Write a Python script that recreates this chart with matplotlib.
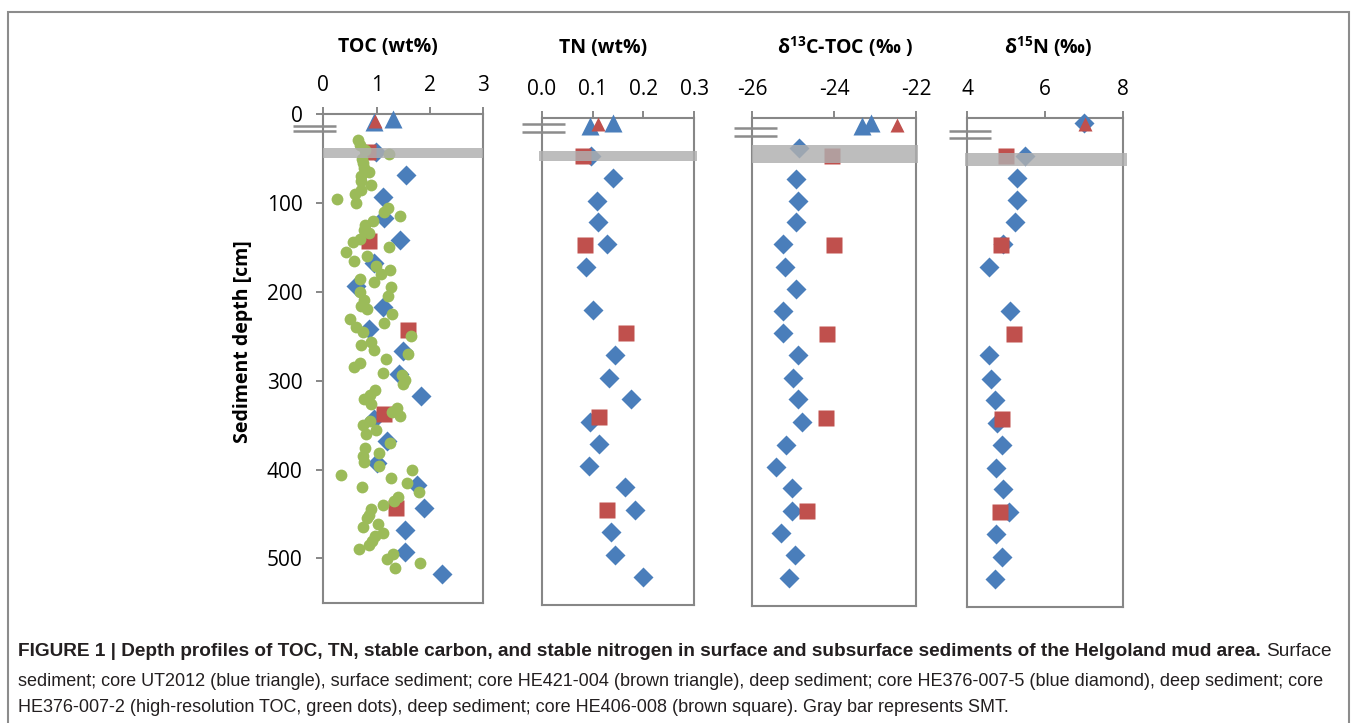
import numpy as np
import matplotlib
matplotlib.use('Agg')
import matplotlib.pyplot as plt
from matplotlib.transforms import blended_transform_factory
from matplotlib.patches import Rectangle

plt.rcParams['font.family'] = ['Open Sans', 'DejaVu Sans']
plt.rcParams['axes.unicode_minus'] = False
plt.rcParams['mathtext.fontset'] = 'custom'
plt.rcParams['mathtext.rm'] = 'Open Sans'
plt.rcParams['mathtext.bf'] = 'Open Sans:bold'

# ---------------- data ----------------
panel_titles = ['TOC (wt%)', 'TN (wt%)', r'δ$^{\mathbf{13}}$C-TOC (‰ )', r'δ$^{\mathbf{15}}$N (‰)']
x_limits = [(0, 3), (0, 0.3), (-26, -22), (4, 8)]
x_ticks = [[0, 1, 2, 3], [0.0, 0.1, 0.2, 0.3], [-26, -24, -22], [4, 6, 8]]
x_ticklabels = [['0', '1', '2', '3'], ['0.0', '0.1', '0.2', '0.3'], ['-26', '-24', '-22'], ['4', '6', '8']]
depth_ticks = [0, 100, 200, 300, 400, 500]
depth_max = 550

# HE376-007-5 (blue diamond)
diamond_depth = [43, 68, 93, 117, 142, 168, 193, 217, 242, 267, 293, 317, 343, 368, 393, 417, 443, 468, 493, 518]
toc_diamond = [0.99, 1.545, 1.125, 1.14, 1.44, 0.95, 0.61, 1.125, 0.86, 1.49, 1.41, 1.83, 0.95, 1.19, 1.01, 1.75, 1.89, 1.53, 1.53, 2.22]
tn_diamond = [0.097, 0.14, 0.108, 0.111, 0.128, 0.087, np.nan, 0.101, np.nan, 0.144, 0.133, 0.175, 0.095, 0.113, 0.093, 0.164, 0.183, 0.136, 0.145, 0.1985]
d13c_diamond_depth = [34, 68, 93, 117, 142, 168, 193, 217, 242, 267, 293, 317, 343, 368, 393, 417, 443, 468, 493, 518]
d13c_diamond = [-24.85, -24.92, -24.88, -24.93, -25.24, -25.2, -24.93, -25.24, -25.24, -24.88, -25.0, -24.88, -24.78, -25.18, -25.42, -25.04, -25.02, -25.3, -24.96, -25.1]
d15n_diamond_depth = [6, 43, 68, 93, 117, 142, 168, 193, 217, 242, 267, 293, 317, 343, 368, 393, 417, 443, 468, 493, 518]
d15n_diamond = [6.99, 5.48, 5.27, 5.28, 5.22, 4.92, 4.56, np.nan, 5.09, np.nan, 4.56, 4.61, 4.71, 4.75, 4.88, 4.73, 4.92, 5.07, 4.74, 4.90, 4.71]

# HE406-008 (brown square)
square_depth = [43, 143, 243, 338, 443]
toc_square = [0.84, 0.86, 1.59, 1.14, 1.36]
tn_square = [0.082, 0.085, 0.166, 0.113, 0.128]
d13c_square = [-24.06, -24.0, -24.18, -24.2, -24.67]
d15n_square = [4.99, 4.86, 5.2, 4.88, 4.84]

# UT2012 (blue triangle)
blue_tri_depth = [9, 5]
toc_blue_tri = [0.95, 1.31]
tn_blue_tri = [0.095, 0.14]
d13c_blue_tri = [-23.33, -23.1]

# HE421-004 (brown triangle)
red_tri_depth = [7]
toc_red_tri = [0.97]
tn_red_tri = [0.111]
d13c_red_tri = [-22.47]
d15n_red_tri = [7.02]

# HE376-007-2 high-resolution TOC (green dots)
green_depth = [29, 35, 40, 45, 50, 55, 60, 65, 70, 75, 80, 85, 90, 95, 100, 105, 110, 114, 120, 125,
               130, 134, 140, 144, 150, 155, 160, 165, 171, 175, 180, 185, 189, 195, 200, 205, 209, 216, 219, 225,
               230, 235, 240, 245, 250, 256, 260, 265, 270, 276, 280, 285, 291, 294, 299, 304, 311, 316, 321, 326,
               331, 335, 340, 345, 350, 355, 360, 370, 376, 381, 385, 391, 396, 400, 406, 410, 415, 420, 425, 431,
               436, 440, 444, 451, 455, 461, 465, 471, 475, 481, 485, 490, 495, 501, 505, 511]
green_toc = [0.65, 0.69, 0.78, 1.23, 0.72, 0.75, 0.76, 0.86, 0.70, 0.70, 0.89, 0.70, 0.59, 0.26, 0.61, 1.22, 1.14, 1.44, 0.93, 0.78,
             0.76, 0.86, 0.69, 0.56, 1.24, 0.43, 0.81, 0.58, 0.99, 1.25, 1.09, 0.69, 0.95, 1.26, 0.68, 1.22, 0.77, 0.71, 0.81, 1.28,
             0.50, 1.14, 0.62, 0.75, 1.64, 0.89, 0.70, 0.95, 1.58, 1.17, 0.68, 0.58, 1.11, 1.47, 1.53, 1.50, 0.96, 0.88, 0.77, 0.89,
             1.38, 1.28, 1.44, 0.88, 0.74, 0.99, 0.80, 1.25, 0.79, 1.05, 0.75, 0.76, 1.04, 1.66, 0.33, 1.27, 1.56, 0.73, 1.80, 1.40,
             1.33, 1.11, 0.89, 0.86, 0.81, 1.02, 0.74, 1.11, 0.97, 0.91, 0.86, 0.66, 1.31, 1.19, 1.81, 1.34]

# SMT gray bar (depth range per panel)
smt_range = [(38, 49), (37, 48), (30, 50), (40, 54)]

caption_bold = ('FIGURE 1 | Depth profiles of TOC, TN, stable carbon, and stable nitrogen in surface '
                'and subsurface sediments of the Helgoland mud area.')
caption_l1 = 'Surface'
caption_l2 = ('sediment; core UT2012 (blue triangle), surface sediment; core HE421-004 (brown triangle), '
              'deep sediment; core HE376-007-5 (blue diamond), deep sediment; core')
caption_l3 = ('HE376-007-2 (high-resolution TOC, green dots), deep sediment; core HE406-008 (brown square). '
              'Gray bar represents SMT.')

# ---------------- style / layout ----------------
W, H = 1357, 723
fig = plt.figure(figsize=(W / 100, H / 100), dpi=100)

BLUE = '#4a7ebb'
RED = '#c0504d'
GREEN = '#9bbb59'
AXC = '#878787'

# axes boxes in pixels: left, right, top, bottom
boxes = [(323.3, 483.3, 114.3, 602.7), (541.7, 694.3, 118.3, 605.0),
         (752.3, 916.0, 118.3, 606.0), (967.3, 1123.3, 117.7, 607.3)]
title_pos = [(388, 47), (603, 48), (845, 47), (1048, 47)]
break_x = [(-0.19, 0.08), (-0.13, 0.15), (-0.11, 0.15), (-0.12, 0.15)]
break_y = [(13, 19), (7, 15), (10.5, 20), (15, 22.5)]
smt_x = [(0.0, 1.0), (-0.018, 1.02), (0.0, 1.012), (-0.012, 1.024)]

series = [
    dict(diam=(diamond_depth, toc_diamond), sq=toc_square, bt=toc_blue_tri, rt=toc_red_tri, green=True),
    dict(diam=(diamond_depth, tn_diamond), sq=tn_square, bt=tn_blue_tri, rt=tn_red_tri, green=False),
    dict(diam=(d13c_diamond_depth, d13c_diamond), sq=d13c_square, bt=d13c_blue_tri, rt=d13c_red_tri, green=False),
    dict(diam=(d15n_diamond_depth, d15n_diamond), sq=d15n_square, bt=None, rt=d15n_red_tri, green=False),
]

axes = []
for i, (l, r, t, b) in enumerate(boxes):
    ax = fig.add_axes([l / W, 1 - b / H, (r - l) / W, (b - t) / H])
    axes.append(ax)
    s = series[i]
    ax.plot(s['diam'][1], s['diam'][0], ls='none', marker='D', ms=10.2, color=BLUE, mec='none', zorder=3, clip_on=False)
    ax.plot(s['sq'], square_depth, ls='none', marker='s', ms=11.5, color=RED, mec='none', zorder=4, clip_on=False)
    if s['green']:
        ax.plot(green_toc, green_depth, ls='none', marker='o', ms=8.5, color=GREEN, mec='none', zorder=5, clip_on=False)
    if s['bt'] is not None:
        ax.plot(s['bt'], blue_tri_depth, ls='none', marker='^', ms=13, color=BLUE, mec='none', zorder=6, clip_on=False)
    ax.plot(s['rt'], red_tri_depth, ls='none', marker='^', ms=10.5, color=RED, mec='none', zorder=7, clip_on=False)

    ax.set_xlim(*x_limits[i])
    ax.set_ylim(depth_max, 0)
    ax.set_xticks(x_ticks[i])
    ax.set_xticklabels(x_ticklabels[i])
    ax.xaxis.tick_top()
    ax.tick_params(axis='x', direction='out', length=5, width=1.4, color=AXC, pad=8, labelsize=15, labelcolor='black')
    if i == 0:
        ax.set_yticks(depth_ticks)
        ax.tick_params(axis='y', direction='out', length=5, width=1.4, color=AXC, pad=10, labelsize=15, labelcolor='black')
    else:
        ax.set_yticks([])
    for sp in ax.spines.values():
        sp.set_color(AXC)
        sp.set_linewidth(1.5)

    # SMT bar
    y0, y1 = smt_range[i]
    ax.axhspan(y0, y1, xmin=smt_x[i][0], xmax=smt_x[i][1], color='#afafaf', alpha=0.82, lw=0, zorder=8, clip_on=False)

    # axis break marks
    tr = blended_transform_factory(ax.transAxes, ax.transData)
    for yb in break_y[i]:
        ax.plot(break_x[i], [yb, yb], transform=tr, color='#8c8c8c', lw=1.8, clip_on=False, zorder=9, solid_capstyle='butt')

    fig.text(title_pos[i][0] / W, 1 - title_pos[i][1] / H, panel_titles[i], ha='center', va='center',
             fontsize=14, fontweight='bold', color='black')

fig.text(243 / W, 1 - 342 / H, 'Sediment depth [cm]', rotation=90, ha='center', va='center',
         fontsize=14, fontweight='bold', color='black')

# outer frame
fig.add_artist(Rectangle((8 / W, -0.05), (1349 - 8) / W, 1.05 - 12 / H, transform=fig.transFigure,
                         fill=False, ec='#8c8c8c', lw=1.5))

# caption
renderer = fig.canvas.get_renderer()
CAPF = ['Liberation Sans', 'DejaVu Sans']
CAPC = '#231f20'
X0 = 18


def place(parts, ypx, fs):
    texts = []
    x = X0
    sp = fs * 0.28 * 100 / 72
    for s, w in parts:
        t = fig.text(x / W, 1 - ypx / H, s, fontsize=fs, fontweight=w, family=CAPF, ha='left', va='center', color=CAPC)
        wpx = t.get_window_extent(renderer).width
        x += wpx + sp
        texts.append(t)
    return texts, x - X0 - sp


def fit(parts, ypx, target, iters, fs0=12.0):
    fs = fs0
    for _ in range(iters):
        texts, total = place(parts, ypx, fs)
        for t in texts:
            t.remove()
        fs = fs * target / total
    place(parts, ypx, fs)
    return fs

fit([(caption_bold, 'bold'), (caption_l1, 'normal')], 652, 1313, 3)
fs2 = fit([(caption_l2, 'normal')], 681, 1302, 1)
place([(caption_l3, 'normal')], 707, fs2)

fig.savefig('out.png', dpi=100)
